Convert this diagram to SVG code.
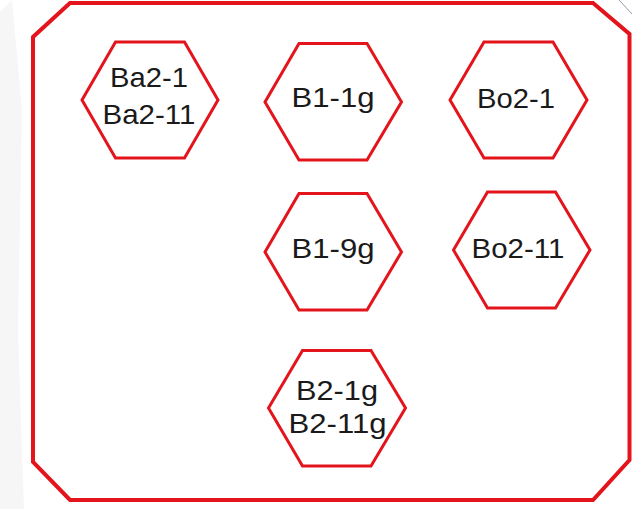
<svg xmlns="http://www.w3.org/2000/svg" width="632" height="509" viewBox="0 0 632 509">
  <style>
    .frame { fill: #ffffff; stroke: #e3141c; stroke-width: 4; stroke-linejoin: miter; }
    .hex { fill: #ffffff; stroke: #e3141c; stroke-width: 3; stroke-linejoin: miter; }
    .lbl { font-family: "Liberation Sans", Arial, sans-serif; font-size: 27.5px; fill: #1a1a1a; text-anchor: middle; }
  </style>
  <rect x="0" y="0" width="632" height="509" fill="#ffffff"/>
  <g id="background-marks">
    <polygon points="0,12 12,0 22,110 18,330 24,509 0,509" fill="#ececec" opacity="0.45"/>
    <line x1="619" y1="0" x2="632" y2="14" stroke="#8d9caa" stroke-width="1"/>
  </g>
  <g id="container">
    <polygon class="frame" points="70,3 593,3 629.5,34 629.5,460 593,500 70,500 33,462 33,37"/>
  </g>
  <g id="connectors"></g>
  <g id="node-ba2">
    <polygon class="hex" points="82,100 115.5,42 184.5,42 218,100 184.5,158 115.5,158"/>
    <text class="lbl" x="149" y="87" textLength="78" lengthAdjust="spacingAndGlyphs">Ba2-1</text>
    <text class="lbl" x="149" y="123.5" textLength="93" lengthAdjust="spacingAndGlyphs">Ba2-11</text>
  </g>
  <g id="node-b1-1g">
    <polygon class="hex" points="265,102 299,43.5 367,43.5 401.5,102 367,160 299,160"/>
    <text class="lbl" x="333" y="106.7" textLength="83" lengthAdjust="spacingAndGlyphs">B1-1g</text>
  </g>
  <g id="node-bo2-1">
    <polygon class="hex" points="450,100 484,42 553,42 587,100 553,158 484,158"/>
    <text class="lbl" x="516" y="107.7" textLength="78" lengthAdjust="spacingAndGlyphs">Bo2-1</text>
  </g>
  <g id="node-b1-9g">
    <polygon class="hex" points="265,252 299,193.5 367,193.5 401.5,252 367,310 299,310"/>
    <text class="lbl" x="333" y="258.3" textLength="83" lengthAdjust="spacingAndGlyphs">B1-9g</text>
  </g>
  <g id="node-bo2-11">
    <polygon class="hex" points="453.5,250 487.5,192 555.5,192 590,250 555.5,308 487.5,308"/>
    <text class="lbl" x="518" y="257.7" textLength="93" lengthAdjust="spacingAndGlyphs">Bo2-11</text>
  </g>
  <g id="node-b2">
    <polygon class="hex" points="268.5,408 302.5,350.5 371,350.5 405.5,408 371,466 302.5,466"/>
    <text class="lbl" x="337" y="400" textLength="82" lengthAdjust="spacingAndGlyphs">B2-1g</text>
    <text class="lbl" x="337.5" y="433" textLength="98" lengthAdjust="spacingAndGlyphs">B2-11g</text>
  </g>
</svg>
